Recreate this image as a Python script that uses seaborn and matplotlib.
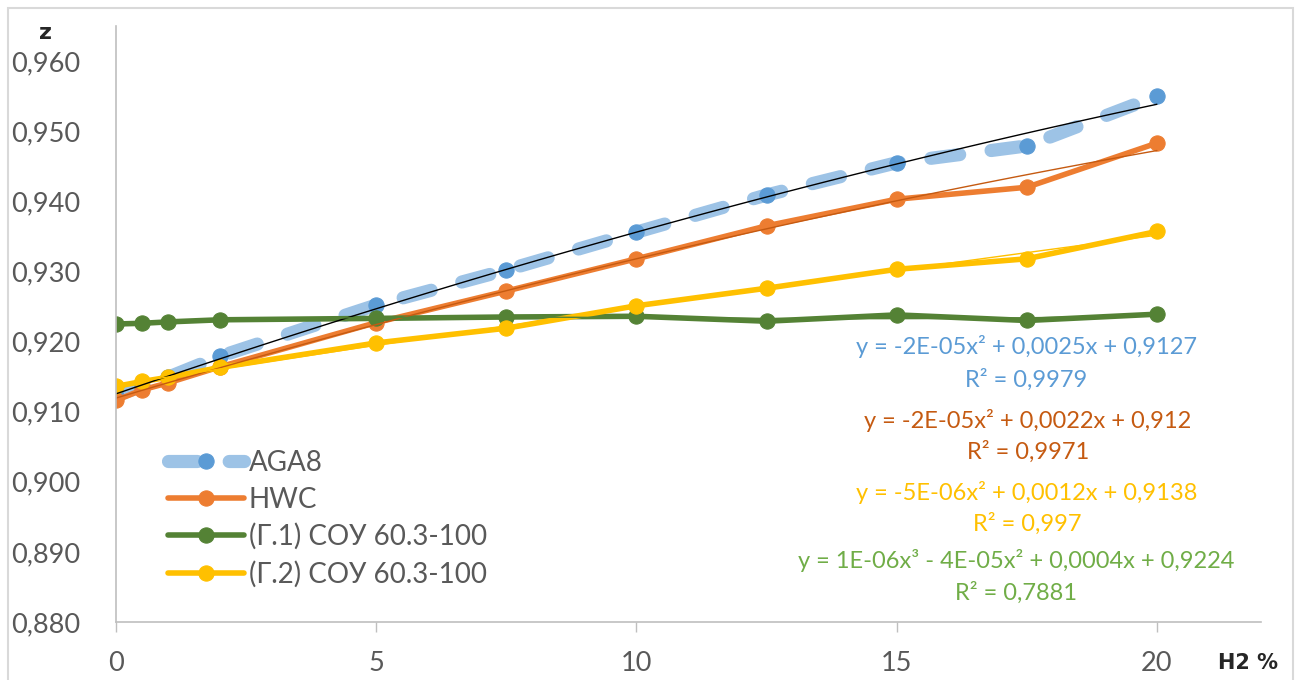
import numpy as np
import pandas as pd
import matplotlib.pyplot as plt
import matplotlib.patches as patches
from matplotlib.ticker import FuncFormatter, MultipleLocator
import seaborn as sns

sns.set_style('white')
plt.rcParams['font.family'] = ['Lato', 'DejaVu Sans']

h2 = [0, 0.5, 1, 2, 5, 7.5, 10, 12.5, 15, 17.5, 20]
aga8 = [0.9123, 0.9136, 0.9149, 0.9179, 0.9252, 0.9302, 0.9356, 0.9409, 0.9455, 0.9479, 0.9550]
hwc = [0.9116, 0.9131, 0.9141, 0.9164, 0.9227, 0.9272, 0.9318, 0.9365, 0.9403, 0.9420, 0.9483]
g1 = [0.9225, 0.9226, 0.9228, 0.9231, 0.9233, 0.9235, 0.9236, 0.9229, 0.9238, 0.9230, 0.9239]
g2 = [0.9136, 0.9143, 0.9149, 0.9163, 0.9198, 0.9219, 0.9251, 0.9276, 0.9303, 0.9318, 0.9357]

labels = ['AGA8', 'HWC', '(Г.1) СОУ 60.3-100', '(Г.2) СОУ 60.3-100']
trend_text = [
    ('y = -2E-05x² + 0,0025x + 0,9127', 'R² = 0,9979', '#5B9BD5'),
    ('y = -2E-05x² + 0,0022x + 0,912', 'R² = 0,9971', '#C55A11'),
    ('y = -5E-06x² + 0,0012x + 0,9138', 'R² = 0,997', '#FFC000'),
    ('y = 1E-06x³ - 4E-05x² + 0,0004x + 0,9224', 'R² = 0,7881', '#70AD47'),
]

df = pd.DataFrame({'H2': h2, 'AGA8': aga8, 'HWC': hwc, 'G1': g1, 'G2': g2})

fig = plt.figure(figsize=(13.01, 6.8), dpi=100)
ax = fig.add_axes([116 / 1301, 1 - 622 / 680, (1261 - 116) / 1301, (622 - 26) / 680])

handles = []
sns.lineplot(data=df, x='H2', y='AGA8', ax=ax, sort=False, color='#9DC3E6', lw=9.5,
             linestyle=(0, (2.2, 2.4)), dash_capstyle='round',
             marker='o', markersize=11, markerfacecolor='#5B9BD5', markeredgecolor='#5B9BD5')
handles.append(ax.lines[-1])
sns.lineplot(data=df, x='H2', y='HWC', ax=ax, sort=False, color='#ED7D31', lw=4,
             marker='o', markersize=11, markeredgecolor='#ED7D31')
handles.append(ax.lines[-1])
sns.lineplot(data=df, x='H2', y='G1', ax=ax, sort=False, color='#548235', lw=4,
             marker='o', markersize=11, markeredgecolor='#548235')
handles.append(ax.lines[-1])
sns.lineplot(data=df, x='H2', y='G2', ax=ax, sort=False, color='#FFC000', lw=4,
             marker='o', markersize=11, markeredgecolor='#FFC000')
handles.append(ax.lines[-1])

# trend lines
sns.regplot(data=df, x='H2', y='AGA8', ax=ax, order=2, ci=None, scatter=False,
            line_kws=dict(color='black', lw=1))
sns.regplot(data=df, x='H2', y='HWC', ax=ax, order=2, ci=None, scatter=False,
            line_kws=dict(color='#C55A11', lw=1))
sns.regplot(data=df, x='H2', y='G2', ax=ax, order=2, ci=None, scatter=False,
            line_kws=dict(color='#FFC000', lw=1))
sns.regplot(data=df, x='H2', y='G1', ax=ax, order=3, ci=None, scatter=False,
            line_kws=dict(color='#548235', lw=1))

ax.set_xlim(0, 22)
ax.set_xticks([0, 5, 10, 15, 20])
ax.yaxis.set_major_locator(MultipleLocator(0.01))
ax.set_ylim(0.880, 0.965)
ax.yaxis.set_major_formatter(FuncFormatter(lambda v, p: f'{v:.3f}'.replace('.', ',')))
ax.set_xlabel('')
ax.set_ylabel('')
ax.tick_params(axis='both', labelsize=19.5, labelcolor='#595959')
ax.tick_params(axis='x', bottom=True, length=7, width=1, color='#BFBFBF', pad=14)
ax.tick_params(axis='y', left=False, pad=22)
for s in ['top', 'right']:
    ax.spines[s].set_visible(False)
for s in ['left', 'bottom']:
    ax.spines[s].set_color('#BFBFBF')
    ax.spines[s].set_linewidth(1.2)

fig.text(46 / 1301, 1 - 33 / 680, 'z', fontsize=16, fontweight='bold', family='DejaVu Sans',
         ha='center', va='center')
fig.text(1248 / 1301, 1 - 663 / 680, 'H2 %', fontsize=15, fontweight='bold', family='DejaVu Sans',
         ha='center', va='center')

ys = [(347, 380), (420, 452), (492, 524), (560, 593)]
xs = [1026, 1028, 1027, 1016]
for (eq, r2, c), (y1, y2), xc in zip(trend_text, ys, xs):
    fig.text(xc / 1301, 1 - y1 / 680, eq, fontsize=17, color=c, ha='center', va='center')
    fig.text(xc / 1301, 1 - y2 / 680, r2, fontsize=17, color=c, ha='center', va='center')

ax.legend(handles, labels, loc='upper left', bbox_to_anchor=(168 / 1301, 1 - 450 / 680),
          bbox_transform=fig.transFigure, frameon=False, fontsize=20, labelcolor='#595959',
          handlelength=2.75, handletextpad=0.15, labelspacing=0.38, borderpad=0, borderaxespad=0)

fig.add_artist(patches.Rectangle((8 / 1301, -0.01), (1293 - 8) / 1301, 1.01 - 8 / 680,
                                 transform=fig.transFigure, fill=False, edgecolor='#D9D9D9', lw=1.5))

fig.savefig('out.png', dpi=100)
